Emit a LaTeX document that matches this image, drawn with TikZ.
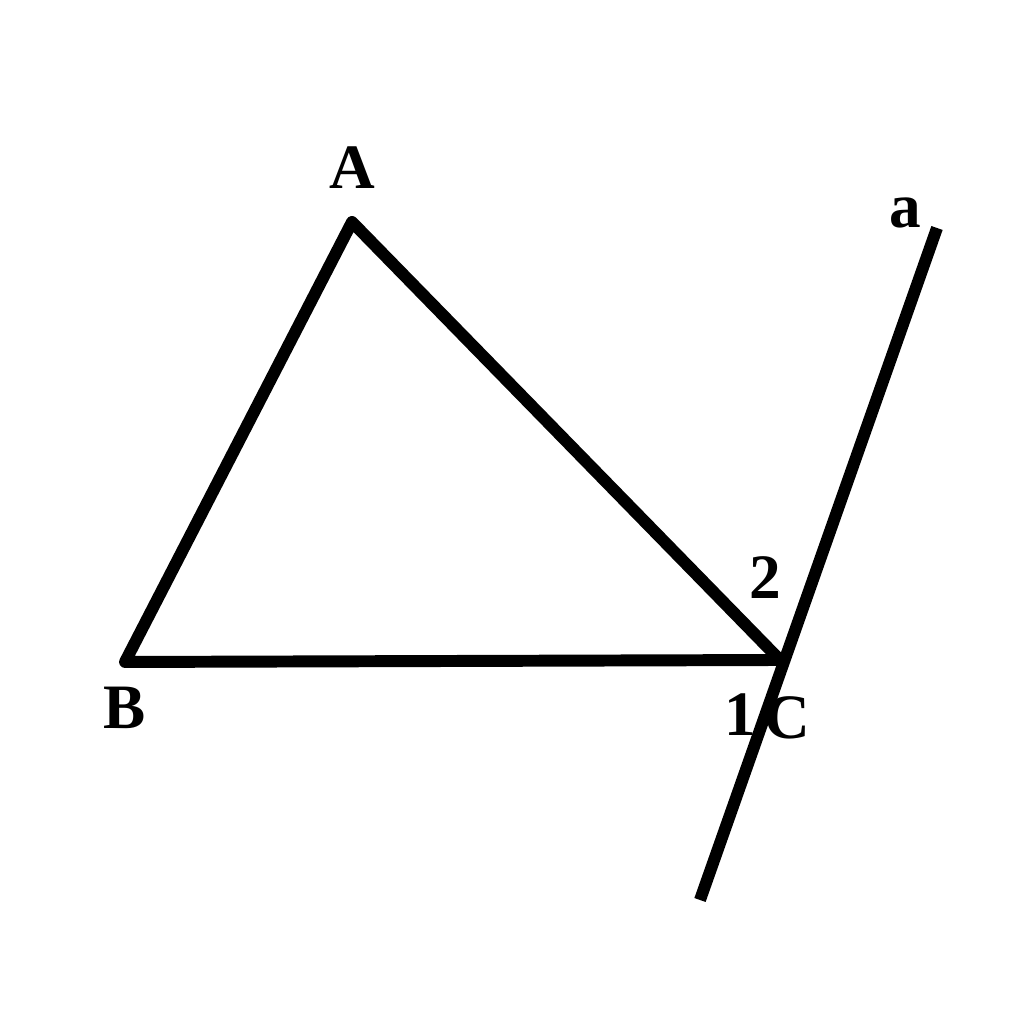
\documentclass[tikz,border=0pt]{standalone}
\usepackage{fontspec}
\setmainfont{Liberation Serif}
\begin{document}
\begin{tikzpicture}[
  seg/.style={line width=3.4pt, line join=round, line cap=butt},
  lbl/.style={inner sep=0pt, font=\fontsize{18}{20}\selectfont\bfseries}
]
\useasboundingbox (0,0) rectangle (10.24,10.19);
\coordinate (A) at (3.52,7.97);
\coordinate (B) at (1.25,3.57);
\coordinate (C) at (7.80,3.59);
\coordinate (a1) at (7.00,1.19);
\coordinate (a2) at (9.37,7.91);
\draw[seg] (A) -- (B) -- (C) -- cycle;
\draw[seg] (a1) -- (a2);
\node[lbl] (lA) at (3.52,8.51) {A};
\node[lbl] (la) at (9.05,8.06) {a};
\node[lbl] (l2) at (7.65,4.41) {2};
\node[lbl] (lB) at (1.25,3.11) {B};
\node[lbl] (l1) at (7.40,3.04) {1};
\node[lbl] (lC) at (7.87,3.01) {C};
\end{tikzpicture}
\end{document}
